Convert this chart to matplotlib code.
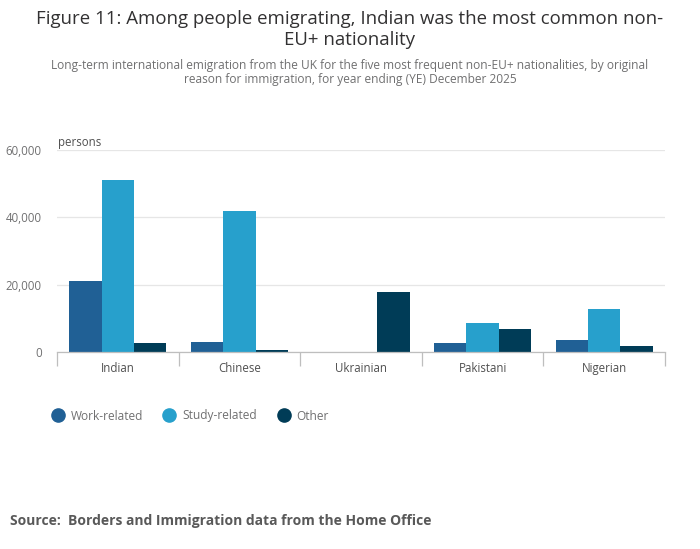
import numpy as np
import matplotlib
matplotlib.use("Agg")
import matplotlib.pyplot as plt
from matplotlib.lines import Line2D
from matplotlib.ticker import FuncFormatter

plt.rcParams["font.family"] = ["Open Sans", "DejaVu Sans"]

NATIONALITIES = ["Indian", "Chinese", "Ukrainian", "Pakistani", "Nigerian"]
WORK = [21000, 3000, 0, 2800, 3600]
STUDY = [51000, 42000, 0, 8600, 12800]
OTHER = [2800, 700, 17800, 6800, 1800]

SERIES_LABELS = ["Work-related", "Study-related", "Other"]
COLORS = ["#206095", "#27a0cc", "#003c57"]

TEXT_GREY = "#707071"
GRID = "#e6e6e6"
AXIS = "#bebebe"

fig = plt.figure(figsize=(7.0, 5.49), dpi=100)
ax = fig.add_axes([57 / 700, 1 - 352 / 549, 608 / 700, 202 / 549])

x = np.arange(len(NATIONALITIES))
width = 0.8 / 3
for i, (vals, color, label) in enumerate(zip([WORK, STUDY, OTHER], COLORS, SERIES_LABELS)):
    ax.bar(x + (i - 1) * width, vals, width=width, color=color, label=label, linewidth=0)

ax.set_xlim(-0.5, len(NATIONALITIES) - 0.5)
ax.set_ylim(0, 60000)
ax.set_yticks([0, 20000, 40000, 60000])
ax.yaxis.set_major_formatter(FuncFormatter(lambda v, p: f"{int(v):,}"))
ax.grid(axis="y", color=GRID, linewidth=0.9)
ax.set_axisbelow(True)

for side in ["top", "right", "left"]:
    ax.spines[side].set_visible(False)
ax.spines["bottom"].set_color(AXIS)
ax.spines["bottom"].set_linewidth(0.9)

ax.set_xticks(x)
ax.set_xticklabels(NATIONALITIES)
ax.set_xticks(np.arange(-0.5, len(NATIONALITIES)), minor=True)
ax.tick_params(axis="x", which="major", length=0, pad=7, labelsize=8.3, labelcolor="#505050")
ax.tick_params(axis="x", which="minor", length=10, color=AXIS, width=0.9)
ax.tick_params(axis="y", length=0, pad=11, labelsize=8.3, labelcolor=TEXT_GREY)

ax.text(0.002, 1.005, "persons", transform=ax.transAxes, ha="left", va="bottom",
        fontsize=8.3, color="#505050")

fig.text(0.5, 1 - 29.5 / 549, "Figure 11: Among people emigrating, Indian was the most common non-\nEU+ nationality",
         ha="center", va="center", fontsize=13.4, color="#323132", linespacing=1.18)
fig.text(0.5, 1 - 72.5 / 549, "Long-term international emigration from the UK for the five most frequent non-EU+ nationalities, by original\nreason for immigration, for year ending (YE) December 2025",
         ha="center", va="center", fontsize=8.55, color=TEXT_GREY, linespacing=1.2)

handles = [Line2D([], [], marker="o", linestyle="", markersize=9.5, color=c) for c in COLORS]
fig.legend(handles, SERIES_LABELS, loc="center left", bbox_to_anchor=(35 / 700, 1 - 416 / 549),
           ncol=3, frameon=False, fontsize=8.6, labelcolor=TEXT_GREY,
           handletextpad=0.1, columnspacing=1.2)

fig.text(10 / 700, 1 - 521 / 549, "Source:  Borders and Immigration data from the Home Office",
         ha="left", va="center", fontsize=10, fontweight="bold", color="#595959")

fig.savefig("out.png", dpi=100)
